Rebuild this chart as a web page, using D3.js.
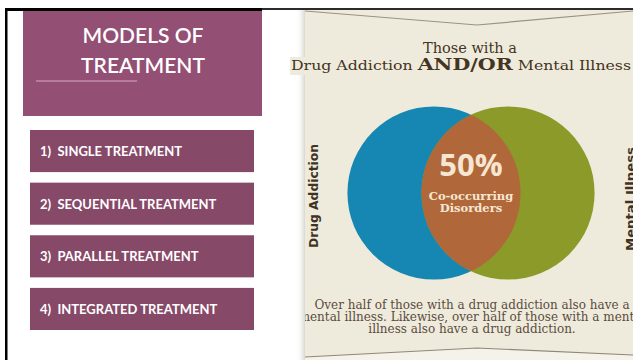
<!DOCTYPE html>
<html>
<head>
<meta charset="utf-8">
<script src="https://cdn.jsdelivr.net/npm/d3@7"></script>
<style>
  html, body { margin: 0; padding: 0; background: #ffffff; }
  svg { display: block; }
</style>
</head>
<body>
<div id="chart"></div>
<script>
// Slide content
const titleLines = ['MODELS OF', 'TREATMENT'];
const models = [
    '1)  SINGLE TREATMENT',
    '2)  SEQUENTIAL TREATMENT',
    '3)  PARALLEL TREATMENT',
    '4)  INTEGRATED TREATMENT'
];

// Venn data (centres in unit space, radius in unit space)
const vennSets = ['Drug Addiction', 'Mental Illness'];
const vennCentres = [-0.5, 0.5];
const vennRadius = 1.17;
const vennColors = ['#1687b2', '#8b9a28'];
const overlapPct = 50;
const overlapLabel = ['Co-occurring', 'Disorders'];
const infoTitle = ['Those with a', 'Drug Addiction ', 'AND/OR', ' Mental Illness'];
const captionLines = [
    'Over half of those with a drug addiction also have a',
    'mental illness. Likewise, over half of those with a mental',
    'illness also have a drug addiction.'
];

const W = 633, H = 360;
const svg = d3.select('#chart').append('svg')
    .attr('width', W).attr('height', H);

// ---------- left panel ----------
svg.append('rect')
    .attr('x', 23).attr('y', 10).attr('width', 239).attr('height', 106)
    .attr('fill', '#944f74');

titleLines.forEach((t, i) => {
    svg.append('text')
        .attr('x', 143).attr('y', 43 + i * 30)
        .attr('text-anchor', 'middle')
        .attr('font-family', 'Lato, sans-serif')
        .attr('font-size', '21px')
        .attr('font-weight', 600)
        .attr('fill', '#ffffff')
        .text(t);
});

svg.append('line')
    .attr('x1', 36).attr('x2', 137).attr('y1', 81).attr('y2', 81)
    .attr('stroke', '#c48ba9').attr('stroke-width', 1.5);

const yBand = d3.scaleBand()
    .domain(models)
    .range([130, 330])
    .paddingInner(0.2)
    .paddingOuter(0);

const boxes = svg.selectAll('g.model')
    .data(models)
    .join('g')
    .attr('class', 'model')
    .attr('transform', d => `translate(30,${yBand(d)})`);

boxes.append('rect')
    .attr('width', 224)
    .attr('height', yBand.bandwidth())
    .attr('fill', '#874968');

boxes.append('text')
    .attr('x', 10)
    .attr('y', yBand.bandwidth() / 2 + 5)
    .attr('font-family', 'Lato, sans-serif')
    .attr('font-size', '13px')
    .attr('font-weight', 700)
    .attr('fill', '#ffffff')
    .attr('xml:space', 'preserve')
    .text(d => d);

// ---------- right panel (infographic) ----------
const defs = svg.append('defs');
const shade = defs.append('linearGradient').attr('id', 'shade')
    .attr('x1', 0).attr('x2', 1);
shade.append('stop').attr('offset', 0).attr('stop-color', '#ffffff').attr('stop-opacity', 0);
shade.append('stop').attr('offset', 1).attr('stop-color', '#d8d6d0').attr('stop-opacity', 1);

svg.append('rect')
    .attr('x', 296).attr('y', 10).attr('width', 9).attr('height', 350)
    .attr('fill', 'url(#shade)');

svg.append('rect')
    .attr('x', 305).attr('y', 10).attr('width', W - 305).attr('height', 350)
    .attr('fill', '#efebdc');

// bottom chevron with lighter area beneath
svg.append('path')
    .attr('d', 'M305,357 L477,348 L633,355 L633,360 L305,360 Z')
    .attr('fill', '#f5f2ea');
svg.append('path')
    .attr('d', 'M305,357 L477,348 L633,355')
    .attr('fill', 'none').attr('stroke', '#8f8878').attr('stroke-width', 1.2);

// top chevron
svg.append('path')
    .attr('d', 'M305,11 L477,25 L633,11')
    .attr('fill', 'none').attr('stroke', '#9a9282').attr('stroke-width', 1.2);

// title
svg.append('text')
    .attr('x', 470).attr('y', 53)
    .attr('text-anchor', 'middle')
    .attr('font-family', '"DejaVu Serif", serif')
    .attr('font-size', '14.5px')
    .attr('fill', '#443422')
    .text(infoTitle[0]);

svg.append('rect')
    .attr('x', 290).attr('y', 57).attr('width', 16).attr('height', 18)
    .attr('fill', '#efebdc');

const title2 = svg.append('text')
    .attr('x', 291).attr('y', 70)
    .attr('font-family', '"DejaVu Serif", serif')
    .attr('font-size', '13px')
    .attr('fill', '#443422')
    .attr('xml:space', 'preserve');
title2.append('tspan').text(infoTitle[1]);
title2.append('tspan').attr('font-size', '17px').attr('font-weight', 700).text(infoTitle[2]);
title2.append('tspan').text(infoTitle[3]);
title2.attr('textLength', 340).attr('lengthAdjust', 'spacingAndGlyphs');

// venn
const x = d3.scaleLinear().domain([-1, 1]).range([397, 545]);
const y = d3.scaleLinear().domain([-1, 1]).range([119, 267]);
const r = d => x(d) - x(0);

const venn = svg.append('g');
defs.append('clipPath').attr('id', 'clipA')
    .append('circle')
    .attr('cx', x(vennCentres[0])).attr('cy', y(0)).attr('r', r(vennRadius));

venn.selectAll('circle.set')
    .data(vennSets)
    .join('circle')
    .attr('class', 'set')
    .attr('cx', (d, i) => x(vennCentres[i]))
    .attr('cy', y(0))
    .attr('r', r(vennRadius))
    .attr('fill', (d, i) => vennColors[i]);

venn.append('circle')
    .attr('cx', x(vennCentres[1])).attr('cy', y(0)).attr('r', r(vennRadius))
    .attr('clip-path', 'url(#clipA)')
    .attr('fill', '#b0683a');

venn.append('text')
    .attr('x', x(0)).attr('y', 176)
    .attr('text-anchor', 'middle')
    .attr('font-family', '"Open Sans", sans-serif')
    .attr('font-size', '31px')
    .attr('font-weight', 700)
    .attr('fill', '#f6e6d2')
    .text(overlapPct + '%');

overlapLabel.forEach((t, i) => {
    venn.append('text')
        .attr('x', x(0)).attr('y', 200 + i * 12)
        .attr('text-anchor', 'middle')
        .attr('font-family', '"DejaVu Serif", serif')
        .attr('font-size', '11.5px')
        .attr('font-weight', 700)
        .attr('fill', '#f6e6d2')
        .text(t);
});

// side labels
const sideX = [313, 630];
const sideY = [196, 199];
vennSets.forEach((s, i) => {
    svg.append('text')
        .attr('transform', `translate(${sideX[i]},${sideY[i]}) rotate(-90)`)
        .attr('text-anchor', 'middle')
        .attr('dominant-baseline', 'central')
        .attr('font-family', '"DejaVu Sans Condensed", "DejaVu Sans", sans-serif')
        .attr('font-size', '12.5px')
        .attr('font-weight', 700)
        .attr('fill', '#3f3424')
        .attr('textLength', 104)
        .attr('lengthAdjust', 'spacingAndGlyphs')
        .text(s);
});

// caption, clipped to the infographic
defs.append('clipPath').attr('id', 'clipInfo')
    .append('rect').attr('x', 305).attr('y', 0).attr('width', W - 305).attr('height', H);

const cap = svg.append('g').attr('clip-path', 'url(#clipInfo)');
captionLines.forEach((t, i) => {
    cap.append('text')
        .attr('x', 472).attr('y', 309 + i * 12)
        .attr('text-anchor', 'middle')
        .attr('font-family', '"DejaVu Serif", serif')
        .attr('font-size', '12px')
        .attr('fill', '#5a4c3c')
        .text(t);
});

// slide frame
svg.append('rect').attr('x', 5).attr('y', 8).attr('width', 257).attr('height', 3).attr('fill', '#000');
svg.append('rect').attr('x', 262).attr('y', 8).attr('width', W - 262).attr('height', 2).attr('fill', '#2b2b2b');
svg.append('rect').attr('x', 5).attr('y', 8).attr('width', 2.5).attr('height', H - 8).attr('fill', '#000');
</script>
</body>
</html>
